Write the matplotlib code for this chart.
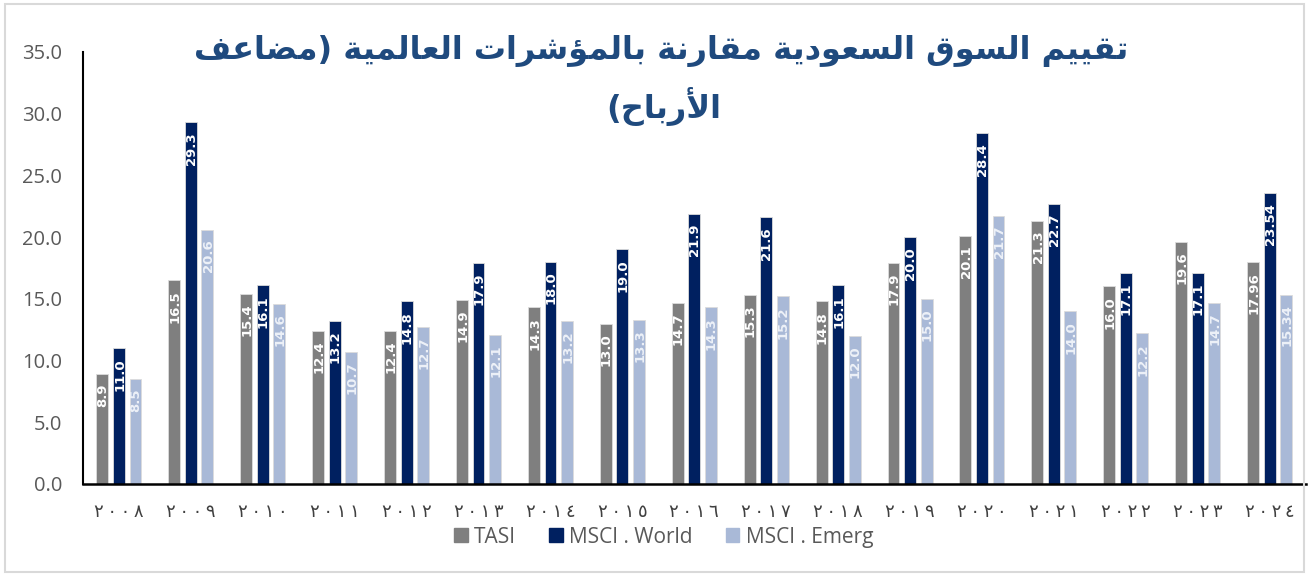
import numpy as np
import matplotlib
matplotlib.use('Agg')
import matplotlib.pyplot as plt
from matplotlib.patches import Rectangle, Patch

# data
years = [2008, 2009, 2010, 2011, 2012, 2013, 2014, 2015, 2016,
         2017, 2018, 2019, 2020, 2021, 2022, 2023, 2024]
tasi = [8.9, 16.5, 15.4, 12.4, 12.4, 14.9, 14.3, 13.0, 14.7,
        15.3, 14.8, 17.9, 20.1, 21.3, 16.0, 19.6, 17.96]
msci_world = [11.0, 29.3, 16.1, 13.2, 14.8, 17.9, 18.0, 19.0, 21.9,
              21.6, 16.1, 20.0, 28.4, 22.7, 17.1, 17.1, 23.54]
msci_emerg = [8.5, 20.6, 14.6, 10.7, 12.7, 12.1, 13.2, 13.3, 14.3,
              15.2, 12.0, 15.0, 21.7, 14.0, 12.2, 14.7, 15.34]
series_names = ['TASI', 'MSCI . World', 'MSCI . Emerg']
title_lines = ['تقييم السوق السعودية مقارنة بالمؤشرات العالمية (مضاعف',
               'الأرباح)']

colors = ['#7f7f7f', '#002060', '#a9b9d7']
label_colors = ['white', 'white', '#edf1f8']

"""
shape_arabic(text)
- matplotlib has no arabic shaping, so pick presentation forms by hand
- return: string in visual (left to right) order
"""

DUAL = {'ب': 0xFE8F, 'ت': 0xFE95, 'ح': 0xFEA1, 'س': 0xFEB1, 'ش': 0xFEB5,
        'ض': 0xFEBD, 'ع': 0xFEC9, 'ف': 0xFED1, 'ق': 0xFED5, 'ل': 0xFEDD,
        'م': 0xFEE1, 'ن': 0xFEE5, 'ي': 0xFEF1}
RIGHT = {'ا': 0xFE8D, 'أ': 0xFE83, 'ؤ': 0xFE85, 'ة': 0xFE93, 'د': 0xFEA9,
         'ر': 0xFEAD, 'و': 0xFEED}
LAM_ALEF = {'ا': 0xFEFB, 'أ': 0xFEF7}


def shape_arabic(text):
    chars = []
    i = 0
    while i < len(text):
        if text[i] == 'ل' and i + 1 < len(text) and text[i + 1] in LAM_ALEF:
            chars.append(text[i:i + 2])
            i += 2
        else:
            chars.append(text[i])
            i += 1
    out = []
    for k, c in enumerate(chars):
        prev_joins = k > 0 and chars[k - 1] in DUAL
        next_letter = k + 1 < len(chars) and (chars[k + 1] in DUAL or chars[k + 1] in RIGHT
                                               or len(chars[k + 1]) == 2)
        if len(c) == 2:
            base = LAM_ALEF[c[1]]
            out.append(chr(base + (1 if prev_joins else 0)))
        elif c in RIGHT:
            out.append(chr(RIGHT[c] + (1 if prev_joins else 0)))
        elif c in DUAL:
            if prev_joins and next_letter:
                off = 3
            elif prev_joins:
                off = 1
            elif next_letter:
                off = 2
            else:
                off = 0
            out.append(chr(DUAL[c] + off))
        else:
            out.append(c)
    vis = ''.join(reversed(out))
    return vis.translate(str.maketrans('()', ')('))


def fmt(v):
    if round(v, 1) == v:
        return f"{v:.1f}"
    return f"{v:.2f}"


def arabic_year(y):
    # arabic-indic digits, spread out a little like the original
    digits = str(y).translate(str.maketrans('0123456789', '٠١٢٣٤٥٦٧٨٩'))
    return '\u2009'.join(digits)


plt.rcParams['font.family'] = ['Open Sans', 'DejaVu Sans']

fig = plt.figure(figsize=(13.09, 5.75), dpi=100)
ax = fig.add_axes([0.0634, 0.1583, 0.934, 0.7513])

x = np.arange(len(years))
width = 0.165
step = 0.23
for i, vals in enumerate([tasi, msci_world, msci_emerg]):
    pos = x + (i - 1) * step
    ax.bar(pos, vals, width=width, color=colors[i], edgecolor='#dcdcdc',
           linewidth=0.6, label=series_names[i])
    for p, v in zip(pos, vals):
        ax.annotate(fmt(v), (p, v), xytext=(0.5, -7), textcoords='offset points',
                    rotation=90, ha='center', va='top', fontsize=9.5,
                    fontweight='bold', family='DejaVu Sans', color=label_colors[i])

ax.set_xlim(-0.5, len(years) - 0.5)
ax.set_ylim(0, 35)
ax.set_yticks(np.arange(0, 35.1, 5))
ax.set_yticklabels([f"{t:.1f}" for t in np.arange(0, 35.1, 5)])
ax.set_xticks(x)
ax.set_xticklabels([arabic_year(y) for y in years], family='DejaVu Sans')
ax.tick_params(axis='y', length=0, pad=15, labelsize=14.5, labelcolor='#595959')
ax.tick_params(axis='x', length=0, pad=14, labelsize=13, labelcolor='#404040')
for s in ['top', 'right']:
    ax.spines[s].set_visible(False)
ax.spines['left'].set_linewidth(1.5)
ax.spines['bottom'].set_linewidth(1.8)

# title, two centered lines
fig.text(0.505, 0.912, shape_arabic(title_lines[0]), ha='center', va='center',
         fontsize=23, fontweight='bold', color='#1f4a7e', family='DejaVu Sans')
fig.text(0.507, 0.815, shape_arabic(title_lines[1]), ha='center', va='center',
         fontsize=23, fontweight='bold', color='#1f4a7e', family='DejaVu Sans')

handles = [Patch(color=c) for c in colors]
fig.legend(handles, series_names, loc='center', bbox_to_anchor=(0.507, 0.066), ncol=3,
           frameon=False, fontsize=15, handlelength=0.65, handleheight=0.65,
           handletextpad=0.3, columnspacing=1.6, labelcolor='#595959')

fig.patches.append(Rectangle((0.004, 0.006), 0.992, 0.987, transform=fig.transFigure,
                             fill=False, edgecolor='#d9d9d9', linewidth=1.5))

fig.savefig('out.png', dpi=100)
